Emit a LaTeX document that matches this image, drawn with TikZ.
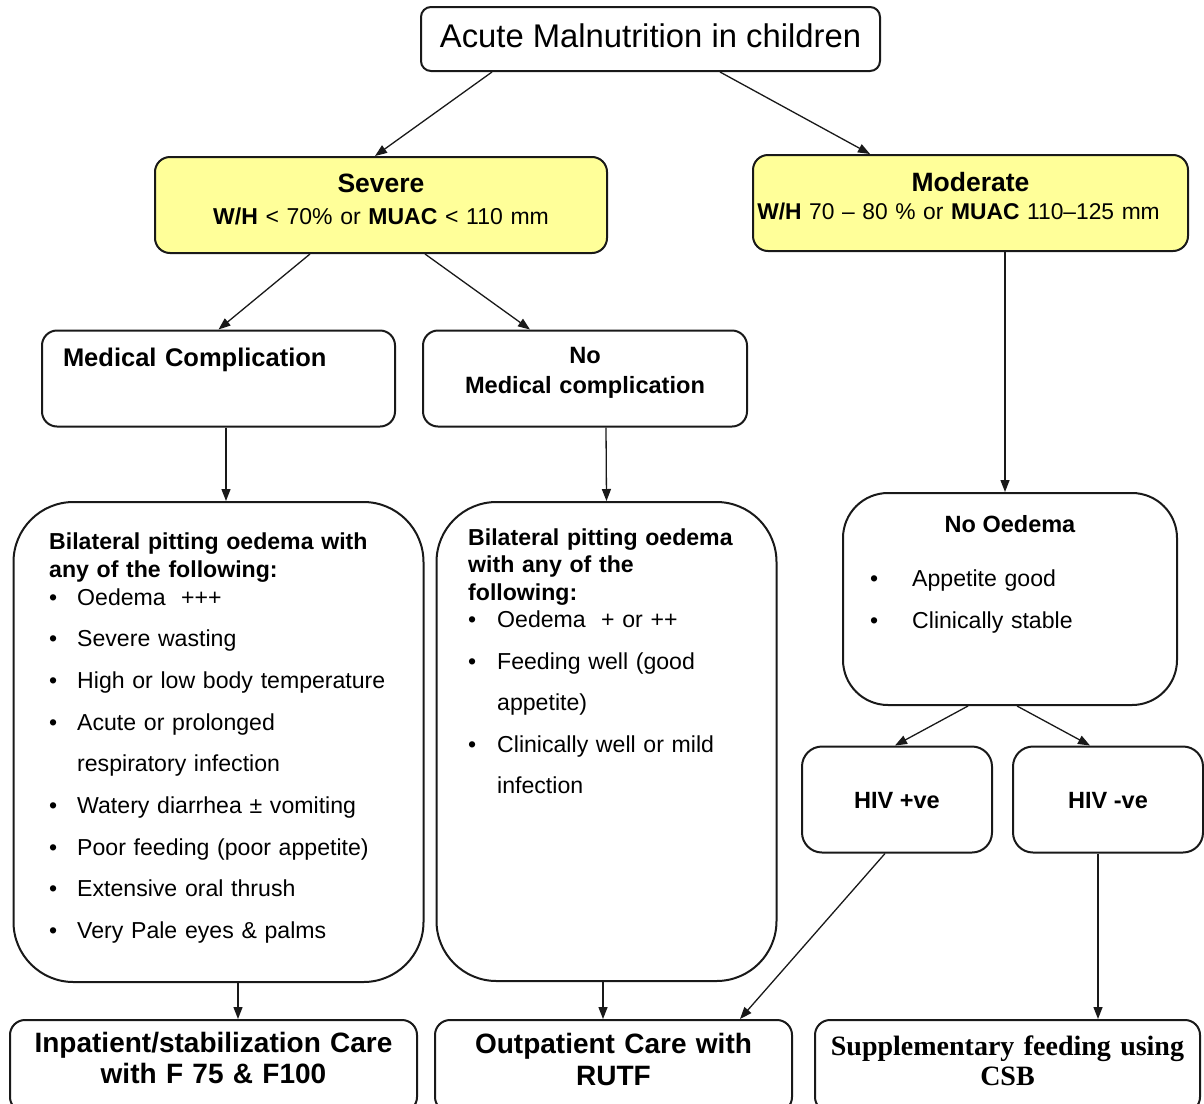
\documentclass[tikz,border=0pt]{standalone}
\usepackage{fontspec}
\setmainfont{Liberation Sans}
\newfontfamily\timesfont{Liberation Serif}
\usetikzlibrary{arrows.meta}
\definecolor{sevfill}{HTML}{FFFF99}
\newcommand{\fsz}[2]{\fontsize{#1}{#2}\selectfont}
\newcommand{\bul}[1]{\makebox[#1][l]{\textbullet}}

\tikzset{
	box/.style={draw=black!90, line width=2pt, rounded corners=15pt, inner sep=0pt},
	yellowbox/.style={box, fill=sevfill},
	listtext/.style={anchor=base west, inner sep=0pt, text width=380pt, align=left},
	arr/.style={draw=black!90, line width=1.3pt, -{Triangle[length=12pt,width=9pt]}}
}

\begin{document}
\begin{tikzpicture}[x=1pt,y=-1pt]
		\useasboundingbox (0,0) rectangle (1204,1103);
		
		% top level
		\node[box, rounded corners=10pt, minimum width=459pt, minimum height=64pt, text height=20pt, text depth=4pt, font=\fsz{32.8}{38}] (title) at (650.5,39) {Acute Malnutrition in children};
		
		\node[yellowbox, minimum width=452pt, minimum height=96pt, text width=440pt, align=center, text height=8pt, text depth=34pt, font=\fsz{23}{32}] (severe) at (381,205) {{\fsz{26.5}{32}\textbf{Severe}}\\ \textbf{W/H} < 70\% or \textbf{MUAC} < 110 mm};
		\node[yellowbox, minimum width=435pt, minimum height=96pt, text width=430pt, align=center, text height=8pt, text depth=32pt, font=\fsz{22.8}{28}] (moderate) at (970.5,203) {{\fsz{26.5}{28}\textbf{Moderate}}\\ \hspace*{-24pt}\textbf{W/H} 70 – 80 \% or \textbf{MUAC} 110–125 mm};
		
		% severe branch
		\node[box, minimum width=353pt, minimum height=96pt, text width=311pt, align=left, text height=8pt, text depth=33pt, font=\fsz{25.5}{30}\bfseries] (medcomp) at (218.5,378.5) {Medical Complication};
		\node[box, minimum width=324pt, minimum height=96pt, text width=300pt, align=center, text height=8pt, text depth=39pt, font=\fsz{23.6}{30}\bfseries] (nomedcomp) at (585,378.5) {No\\ Medical complication};
		
		\node[box, rounded corners=60pt, minimum width=410pt, minimum height=480pt] (sevlist) at (218.5,742) {};
		\node[listtext, font=\fsz{23.1}{28}] (sevlisttext) at (49,549) {%
			\textbf{Bilateral pitting oedema with}\\
			\textbf{any of the following:}\\
			\bul{28pt}Oedema \ +++\\[13.7pt]
			\bul{28pt}Severe wasting\\[13.7pt]
			\bul{28pt}High or low body temperature\\[13.7pt]
			\bul{28pt}Acute or prolonged\\[13.7pt]
			\hspace*{28pt}respiratory infection\\[13.7pt]
			\bul{28pt}Watery diarrhea ± vomiting\\[13.7pt]
			\bul{28pt}Poor feeding (poor appetite)\\[13.7pt]
			\bul{28pt}Extensive oral thrush\\[13.7pt]
			\bul{28pt}Very Pale eyes \& palms};
		
		\node[box, rounded corners=60pt, minimum width=340pt, minimum height=479pt] (midlist) at (606.5,741.5) {};
		\node[listtext, font=\fsz{23.1}{27.5}] (midlisttext) at (468,545) {%
			\textbf{Bilateral pitting oedema}\\
			\textbf{with any of the}\\
			\textbf{following:}\\
			\bul{29pt}Oedema \ + or ++\\[14pt]
			\bul{29pt}Feeding well (good\\[14pt]
			\hspace*{29pt}appetite)\\[14pt]
			\bul{29pt}Clinically well or mild\\[14pt]
			\hspace*{29pt}infection};
		
		% moderate branch
		\node[box, rounded corners=45pt, minimum width=334pt, minimum height=212pt, text height=8pt, text depth=142pt, font=\fsz{23.5}{28}\bfseries] (nooedema) at (1010,599) {No Oedema};
		\node[listtext, font=\fsz{23.1}{42}] (nooedtext) at (870,586) {%
			\bul{42pt}Appetite good\\
			\bul{42pt}Clinically stable};
		
		\node[box, rounded corners=20pt, minimum width=190pt, minimum height=106pt, text height=19pt, text depth=2pt, font=\fsz{23.5}{28}\bfseries] (hivpos) at (897,799.5) {HIV +ve};
		\node[box, rounded corners=20pt, minimum width=190pt, minimum height=106pt, text height=19pt, text depth=2pt, font=\fsz{23.5}{28}\bfseries] (hivneg) at (1108,799.5) {HIV -ve};
		
		% care
		\node[box, minimum width=407pt, minimum height=92pt, text width=400pt, align=center, text height=8pt, text depth=36pt, font=\fsz{28}{31}\bfseries] (inpatient) at (213.5,1066) {Inpatient/stabilization Care\\ with F 75 \& F100};
		\node[box, minimum width=357pt, minimum height=92pt, text width=350pt, align=center, text height=8pt, text depth=34pt, font=\fsz{28}{32}\bfseries] (outpatient) at (613.5,1066) {Outpatient Care with\\ RUTF};
		\node[box, minimum width=385pt, minimum height=92pt, text width=380pt, align=center, text height=8pt, text depth=30pt, font=\timesfont\fsz{28}{30}\bfseries] (supplement) at (1007.5,1066) {Supplementary feeding using\\ CSB};
		
		\draw[arr] ([xshift=-158.5pt]title.south) -- ([xshift=-6pt]severe.north);
		\draw[arr] ([xshift=69.5pt]title.south) -- ([xshift=-100.5pt]moderate.north);
		\draw[arr] ([xshift=-71pt]severe.south) -- (medcomp.north);
		\draw[arr] ([xshift=44pt]severe.south) -- ([xshift=-55pt]nomedcomp.north);
		\draw[arr] ([xshift=34.5pt]moderate.south) -- ([xshift=-5pt]nooedema.north);
		\draw[arr] ([xshift=7.5pt]medcomp.south) -- ([xshift=7.5pt]sevlist.north);
		\draw[arr] ([xshift=21pt]nomedcomp.south) -- ([xshift=0pt]midlist.north);
		\draw[arr] ([xshift=-42pt]nooedema.south) -- ([xshift=-2pt]hivpos.north);
		\draw[arr] ([xshift=7pt]nooedema.south) -- ([xshift=-18pt]hivneg.north);
		\draw[arr] ([xshift=19.5pt]sevlist.south) -- ([xshift=24.5pt]inpatient.north);
		\draw[arr] ([xshift=-3.5pt]midlist.south) -- ([xshift=-10.5pt]outpatient.north);
		\draw[arr] ([xshift=-12pt]hivpos.south) -- ([xshift=126.5pt]outpatient.north);
		\draw[arr] ([xshift=-10pt]hivneg.south) -- ([xshift=90.5pt]supplement.north);
		
\end{tikzpicture}
\end{document}
